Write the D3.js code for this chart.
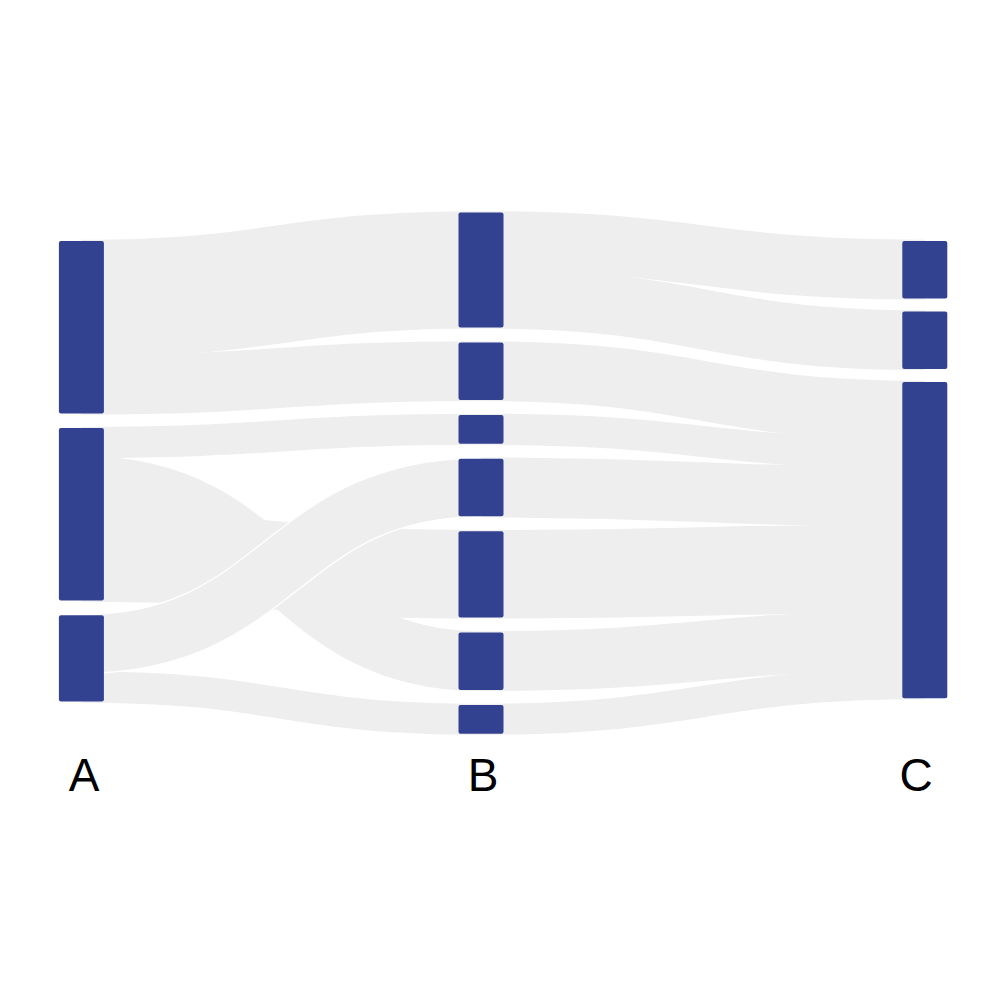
<!DOCTYPE html>
<html>
<head>
<meta charset="utf-8">
<script src="https://cdn.jsdelivr.net/npm/d3@7"></script>
<style>
  html, body { margin: 0; padding: 0; background: #ffffff; }
</style>
</head>
<body>
<svg id="chart" width="1000" height="1000"></svg>
<script>
// ---------------- data ----------------
const columns = ["A", "B", "C"];
const nodesA = ["a1", "a2", "a3"];
const nodesB = ["b1", "b2", "b3", "b4", "b5", "b6", "b7"];
const nodesC = ["c1", "c2", "c3"];
// outgoing ribbons leave each node in the order listed here
const linkSources = ["a1", "a1", "a2", "a2", "a2", "a3", "a3",
                     "b1", "b1", "b2", "b3", "b4", "b5", "b6", "b7"];
const linkTargets = ["b1", "b2", "b3", "b6", "b5", "b4", "b7",
                     "c1", "c2", "c3", "c3", "c3", "c3", "c3", "c3"];
const linkValues  = [4, 2, 1, 2, 3, 2, 1,
                     2, 2, 2, 1, 2, 3, 2, 1];

// ---------------- layout ----------------
const svg = d3.select("#chart");
const nodeWidth = 45;
const columnPadding = [14.6, 15, 13];
const columnCenter = [471.2, 473, 469.5];
const nodeColor = "#334191";
const flowColor = "#eeeeee";

const columnNodes = [nodesA, nodesB, nodesC];
const links = linkValues.map((v, i) => ({ source: linkSources[i], target: linkTargets[i], value: v }));

const nodeMap = new Map();
columnNodes.forEach((list, ci) => list.forEach(id => nodeMap.set(id, { id, col: ci, inLinks: [], outLinks: [] })));
links.forEach(l => {
  l.s = nodeMap.get(l.source);
  l.t = nodeMap.get(l.target);
  l.s.outLinks.push(l);
  l.t.inLinks.push(l);
});
nodeMap.forEach(n => {
  n.value = Math.max(d3.sum(n.inLinks, l => l.value), d3.sum(n.outLinks, l => l.value));
});

const totalValue = d3.max(columnNodes, list => d3.sum(list, id => nodeMap.get(id).value));
const h = d3.scaleLinear().domain([0, totalValue]).range([0, 431.25]);
const x = d3.scaleLinear().domain([0, 1, 2]).range([81.4, 481, 924.8]);
const labelX = d3.scaleLinear().domain([0, 1, 2]).range([84, 483, 916]);

columnNodes.forEach((list, ci) => {
  const pad = columnPadding[ci];
  const total = d3.sum(list, id => h(nodeMap.get(id).value)) + (list.length - 1) * pad;
  let y = columnCenter[ci] - total / 2;
  list.forEach(id => {
    const n = nodeMap.get(id);
    n.y0 = y;
    n.y1 = y + h(n.value);
    n.x = x(ci);
    y = n.y1 + pad;
  });
});

// link breadths: outgoing in data order, incoming by source position
nodeMap.forEach(n => {
  let y = n.y0;
  n.outLinks.forEach(l => { l.width = h(l.value); l.y0 = y + l.width / 2; y += l.width; });
  y = n.y0;
  n.inLinks.sort((a, b) => a.s.y0 - b.s.y0).forEach(l => { l.y1 = y + h(l.value) / 2; y += h(l.value); });
});

const linkShape = d3.linkHorizontal().x(d => d[0]).y(d => d[1]);
const linkPath = l => linkShape({ source: [l.s.x, l.y0], target: [l.t.x, l.y1] });

// the rising A3 -> B4 ribbon crosses over the others with a thin white edge
const onTop = l => l.source === "a3" && l.target === "b4";
const ordered = links.filter(l => !onTop(l)).concat(links.filter(onTop));

const gLinks = svg.append("g").attr("fill", "none");
ordered.forEach(l => {
  if (onTop(l)) {
    gLinks.append("path")
      .attr("d", linkPath(l))
      .attr("stroke", "#ffffff")
      .attr("stroke-width", l.width + 2.6);
  }
  gLinks.append("path")
    .attr("d", linkPath(l))
    .attr("stroke", flowColor)
    .attr("stroke-width", onTop(l) ? l.width : l.width + 2.4);
});

svg.append("g")
  .selectAll("rect")
  .data(Array.from(nodeMap.values()))
  .join("rect")
  .attr("x", n => n.x - nodeWidth / 2)
  .attr("y", n => n.y0)
  .attr("width", nodeWidth)
  .attr("height", n => n.y1 - n.y0)
  .attr("rx", 2)
  .attr("ry", 2)
  .attr("fill", nodeColor);

svg.append("g")
  .selectAll("text")
  .data(columns)
  .join("text")
  .attr("x", (d, i) => labelX(i))
  .attr("y", 791)
  .attr("text-anchor", "middle")
  .attr("font-family", "'Liberation Sans', Arial, Helvetica, sans-serif")
  .attr("font-size", 46)
  .attr("fill", "#000000")
  .text(d => d);
</script>
</body>
</html>
